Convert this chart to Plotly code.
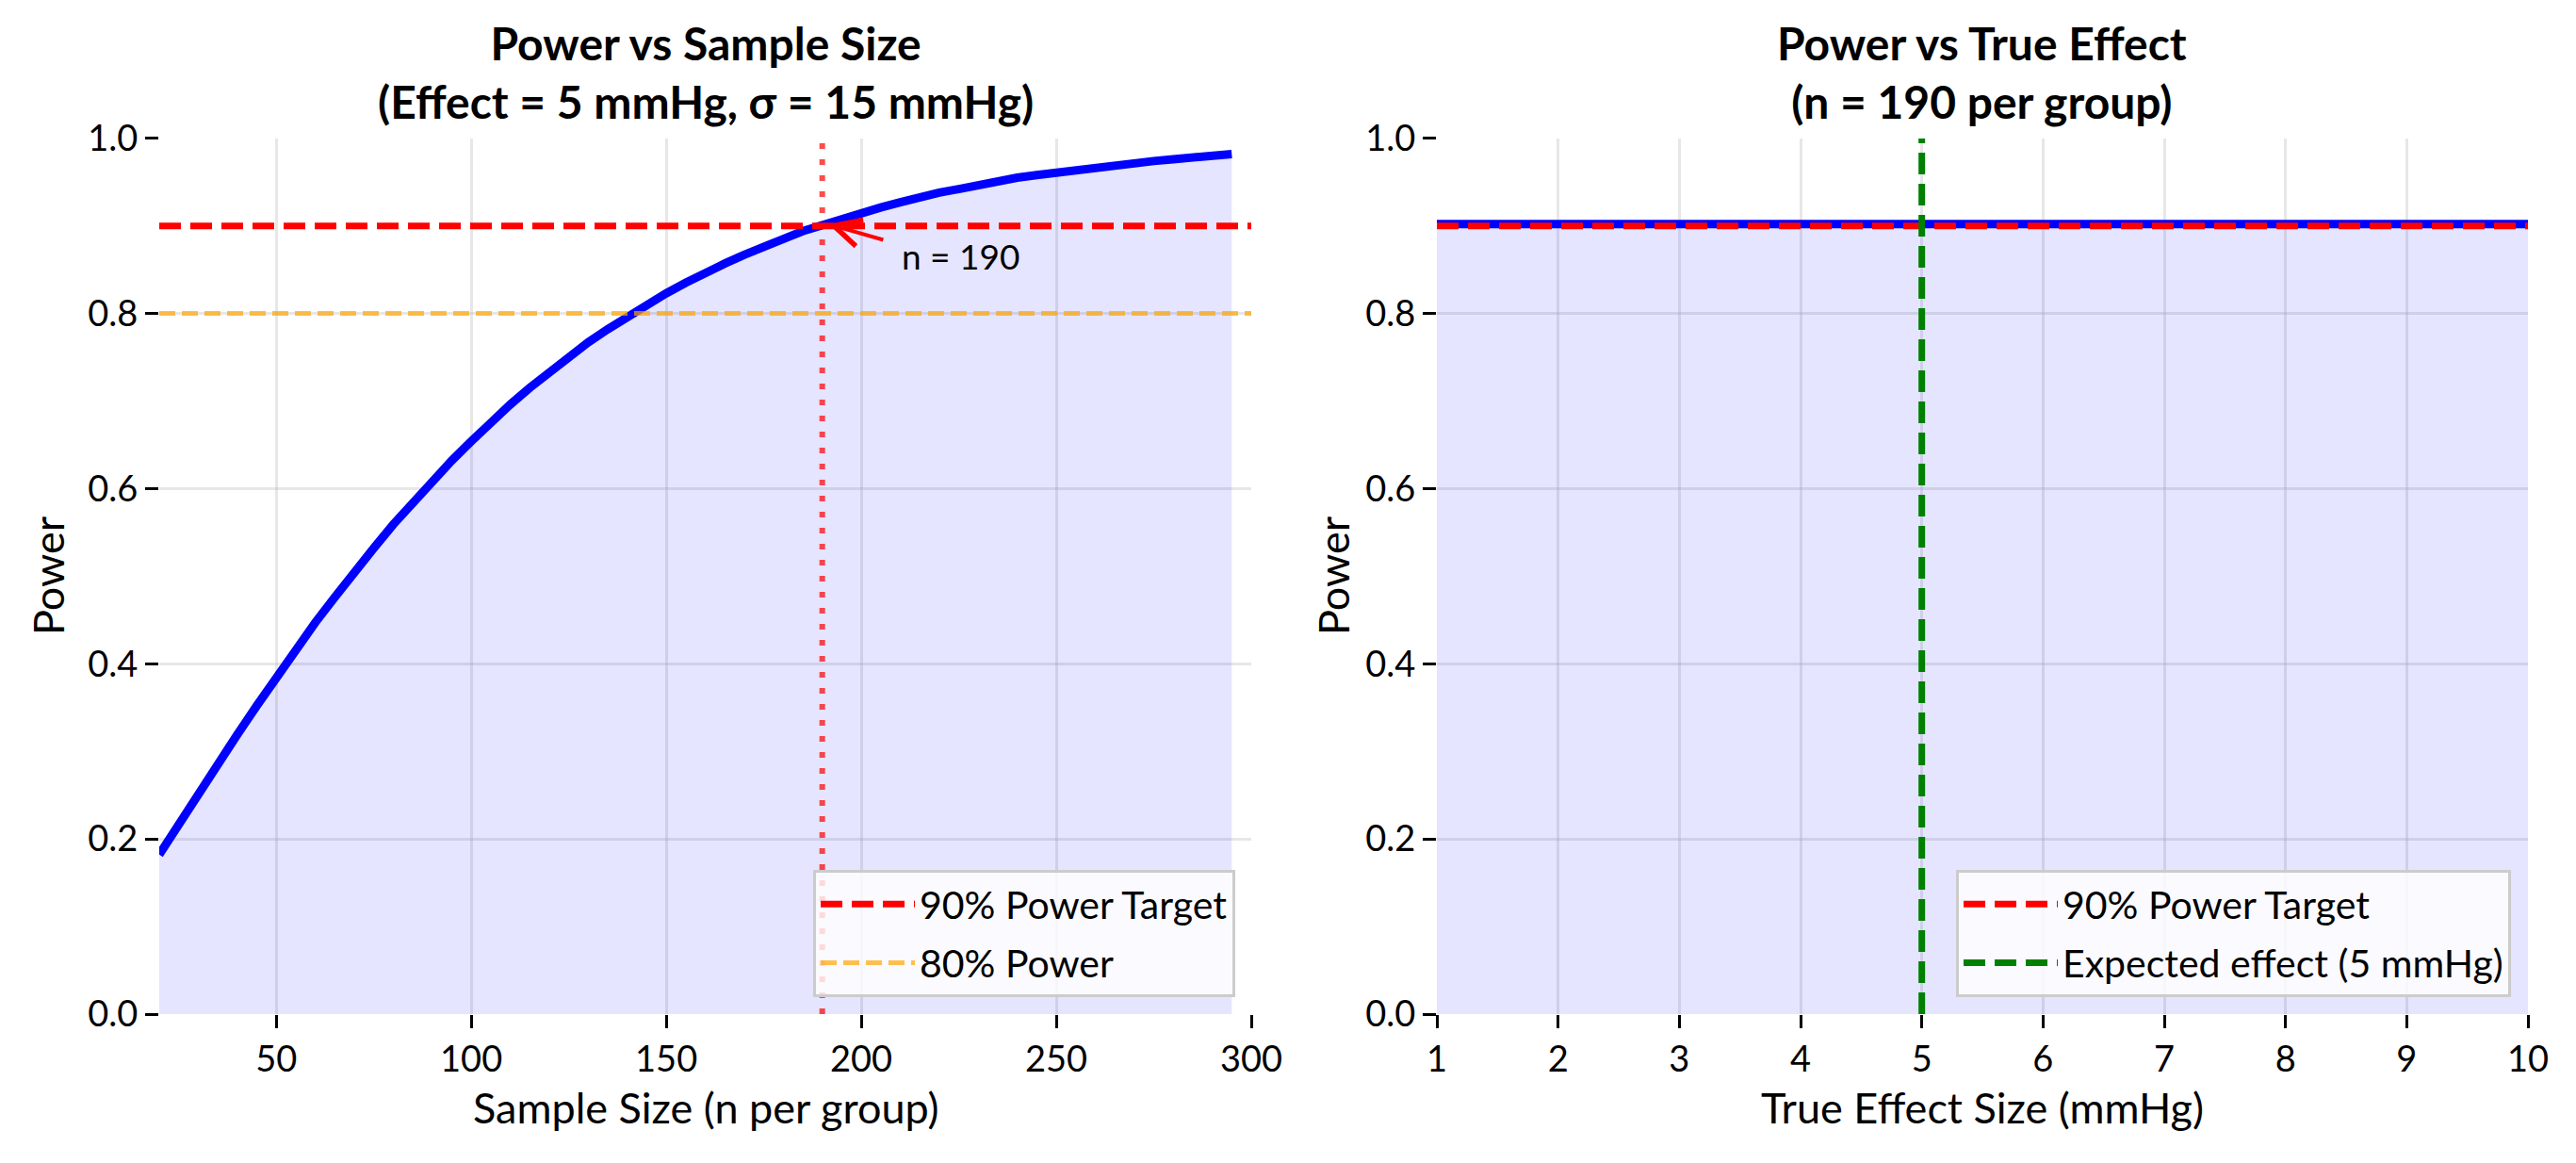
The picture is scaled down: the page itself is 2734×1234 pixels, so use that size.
import plotly.graph_objects as go

FONT = "Source Sans Pro, Lato, sans-serif"
W, H = 2734, 1234
OFF = 8  # page body margin shifts the figure by this many pixels


def px(v):
    return (v - OFF) / W


def py(v):
    return 1 - (v - OFF) / H


# left panel: power against n per group
sample_sizes = list(range(20, 300, 5))
power_by_n = [
    0.182, 0.217, 0.252, 0.286, 0.319, 0.352, 0.385, 0.416, 0.447, 0.476,
    0.505, 0.532, 0.559, 0.584, 0.609, 0.632, 0.654, 0.676, 0.696, 0.715,
    0.733, 0.750, 0.767, 0.782, 0.796, 0.810, 0.823, 0.835, 0.847, 0.857,
    0.867, 0.877, 0.885, 0.894, 0.901, 0.909, 0.915, 0.921, 0.927, 0.933,
    0.938, 0.942, 0.947, 0.951, 0.955, 0.958, 0.961, 0.964, 0.967, 0.970,
    0.972, 0.974, 0.976, 0.978, 0.980, 0.982,
]

# right panel: power against true effect (flat in the source)
effect_sizes = [1, 2, 3, 4, 5, 6, 7, 8, 9, 10]
power_by_effect = [0.902, 0.902, 0.902, 0.902, 0.902, 0.902, 0.902, 0.902, 0.902, 0.902]

target_power = 0.90
alt_power = 0.80
required_n = 190
expected_effect = 5

n_range = [20, 300]
effect_range = [1, 10]
n_ticks = [50, 100, 150, 200, 250, 300]
effect_ticks = [1, 2, 3, 4, 5, 6, 7, 8, 9, 10]
power_ticks = [0.0, 0.2, 0.4, 0.6, 0.8, 1.0]

RED = "rgb(255,0,0)"
BLUE = "rgb(0,0,255)"
FILL = "rgba(0,0,255,0.1)"
ORANGE = "rgba(255,165,0,0.7)"
GREEN = "rgb(0,128,0)"

fig = go.Figure()

# left
fig.add_trace(go.Scatter(x=sample_sizes, y=power_by_n, mode="lines", fill="tozeroy",
                         fillcolor=FILL, line=dict(color=BLUE, width=9),
                         showlegend=False, xaxis="x", yaxis="y"))
fig.add_trace(go.Scatter(x=n_range, y=[target_power] * 2, mode="lines",
                         name="90% Power Target", line=dict(color=RED, width=7, dash="23px,10px"),
                         xaxis="x", yaxis="y", legend="legend", legendgroup="a"))
fig.add_trace(go.Scatter(x=n_range, y=[alt_power] * 2, mode="lines",
                         name="80% Power", line=dict(color=ORANGE, width=5, dash="17px,7px"),
                         xaxis="x", yaxis="y", legend="legend", legendgroup="b"))
fig.add_trace(go.Scatter(x=[required_n] * 2, y=[0, 1], mode="lines",
                         line=dict(color="rgba(255,0,0,0.7)", width=6, dash="6px,11px"),
                         showlegend=False, xaxis="x", yaxis="y"))

# right
fig.add_trace(go.Scatter(x=effect_sizes, y=power_by_effect, mode="lines", fill="tozeroy",
                         fillcolor=FILL, line=dict(color=BLUE, width=9),
                         showlegend=False, xaxis="x2", yaxis="y2"))
fig.add_trace(go.Scatter(x=effect_range, y=[target_power] * 2, mode="lines",
                         name="90% Power Target", line=dict(color=RED, width=7, dash="23px,10px"),
                         xaxis="x2", yaxis="y2", legend="legend2", legendgroup="c"))
fig.add_trace(go.Scatter(x=[expected_effect] * 2, y=[0, 1], mode="lines",
                         name="Expected effect (5 mmHg)",
                         line=dict(color=GREEN, width=7, dash="23px,10px"),
                         xaxis="x2", yaxis="y2", legend="legend2", legendgroup="d"))

axis_common = dict(showgrid=True, gridcolor="rgba(176,176,176,0.3)", gridwidth=3,
                   zeroline=False, showline=False, ticks="outside", ticklen=14,
                   tickwidth=3, tickcolor="black", automargin=False,
                   tickfont=dict(family=FONT, size=38, color="black"))

left_dom = [px(169), px(1328)]
right_dom = [px(1525), px(2683)]
y_dom = [py(1076), py(146.7)]

legend_common = dict(bgcolor="rgba(255,255,255,0.8)", bordercolor="rgb(204,204,204)",
                     borderwidth=3, font=dict(family=FONT, size=41, color="black"),
                     itemwidth=100, tracegroupgap=6,
                     xanchor="right", yanchor="bottom", y=py(1058))

fig.update_layout(
    template="none",
    width=W, height=H,
    margin=dict(l=0, r=0, t=0, b=0, autoexpand=False),
    paper_bgcolor="white", plot_bgcolor="white",
    font=dict(family=FONT, color="black"),
    hovermode=False,
    xaxis=dict(axis_common, domain=left_dom, range=n_range, tickvals=n_ticks, anchor="y"),
    yaxis=dict(axis_common, domain=y_dom, range=[0, 1], tickvals=power_ticks,
               tickformat=".1f", anchor="x"),
    xaxis2=dict(axis_common, domain=right_dom, range=effect_range, tickvals=effect_ticks,
                anchor="y2"),
    yaxis2=dict(axis_common, domain=y_dom, range=[0, 1], tickvals=power_ticks,
                tickformat=".1f", anchor="x2"),
    legend=dict(legend_common, x=px(1311)),
    legend2=dict(legend_common, x=px(2665)),
)

left_mid = (left_dom[0] + left_dom[1]) / 2
right_mid = (right_dom[0] + right_dom[1]) / 2
title_font = dict(family=FONT, size=48, color="black", weight="bold")
label_font = dict(family=FONT, size=45, color="black")

texts = [
    dict(text="Power vs Sample Size<br>(Effect = 5 mmHg, σ = 15 mmHg)",
         x=left_mid, y=py(77), font=title_font),
    dict(text="Power vs True Effect<br>(n = 190 per group)",
         x=right_mid, y=py(77), font=title_font),
    dict(text="Sample Size (n per group)", x=left_mid, y=py(1175), font=label_font),
    dict(text="True Effect Size (mmHg)", x=right_mid, y=py(1175), font=label_font),
    dict(text="Power", x=px(51), y=py(611), font=label_font, textangle=-90),
    dict(text="Power", x=px(1415), y=py(611), font=label_font, textangle=-90),
]
for t in texts:
    fig.add_annotation(xref="paper", yref="paper", showarrow=False,
                       xanchor="center", yanchor="middle", **t)

# n = 190 callout
fig.add_annotation(x=191.5, y=0.902, ax=206, ay=0.8835,
                   xref="x", yref="y", axref="x", ayref="y", text="",
                   showarrow=True, arrowhead=5, arrowsize=1.4, arrowwidth=4,
                   arrowcolor=RED)
fig.add_annotation(x=210, y=0.866, xref="x", yref="y", text="n = " + str(required_n),
                   showarrow=False, xanchor="left", yanchor="middle",
                   font=dict(family=FONT, size=37, color="black"))

fig.write_html("out.html", config={"displayModeBar": False})
